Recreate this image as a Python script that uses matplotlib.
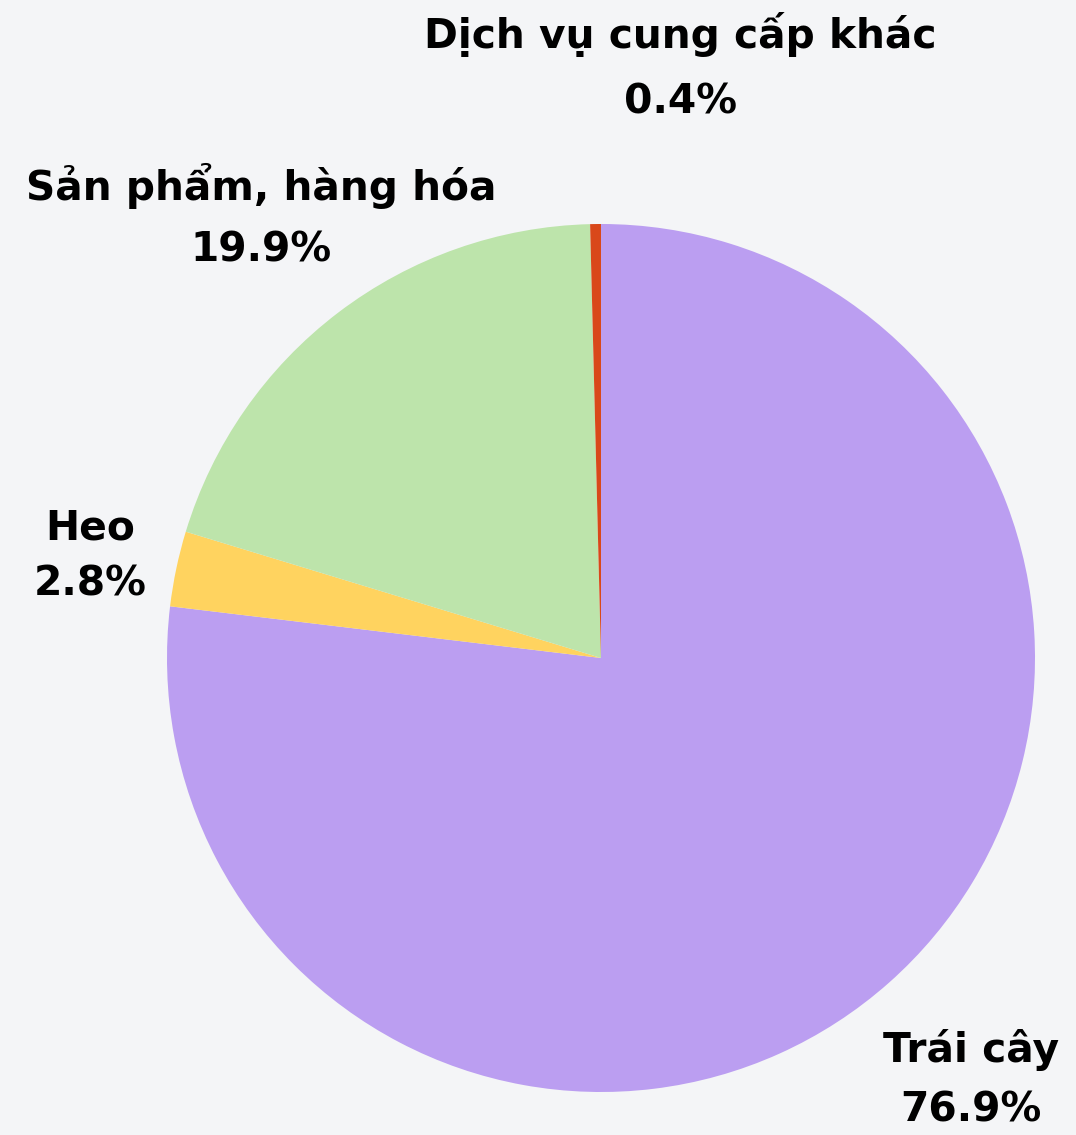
import matplotlib
matplotlib.use('Agg')
import matplotlib.pyplot as plt

categories = ['Trái cây', 'Heo', 'Sản phẩm, hàng hóa', 'Dịch vụ cung cấp khác']
shares = [76.9, 2.8, 19.9, 0.4]
colors = ['#bb9ef1', '#ffd35f', '#bde4ab', '#d9481a']

# label anchor (centre x, baseline y of name, baseline y of value) in pixels
label_pos = [(971, 1062, 1122), (90, 540, 595), (261, 200, 262), (680, 48, 113)]

W, H = 1076, 1135
bg = '#f4f5f7'
fig = plt.figure(figsize=(W / 100, H / 100), dpi=100, facecolor=bg)
ax = fig.add_axes([167 / W, 1 - 1092 / H, 868 / W, 868 / H])
ax.set_facecolor(bg)
ax.pie(shares, colors=colors, startangle=90, counterclock=False,
       wedgeprops=dict(linewidth=0))
ax.set_aspect('equal')
ax.set_xlim(-1, 1)
ax.set_ylim(-1, 1)
ax.axis('off')

for name, val, (x, y1, y2) in zip(categories, shares, label_pos):
    fig.text(x / W, 1 - y1 / H, name, ha='center', va='baseline',
             fontsize=29.3, fontweight='bold', family='DejaVu Sans')
    fig.text(x / W, 1 - y2 / H, f'{val:.1f}%', ha='center', va='baseline',
             fontsize=29.3, fontweight='bold', family='DejaVu Sans')

fig.savefig('out.png', dpi=100, facecolor=bg)
